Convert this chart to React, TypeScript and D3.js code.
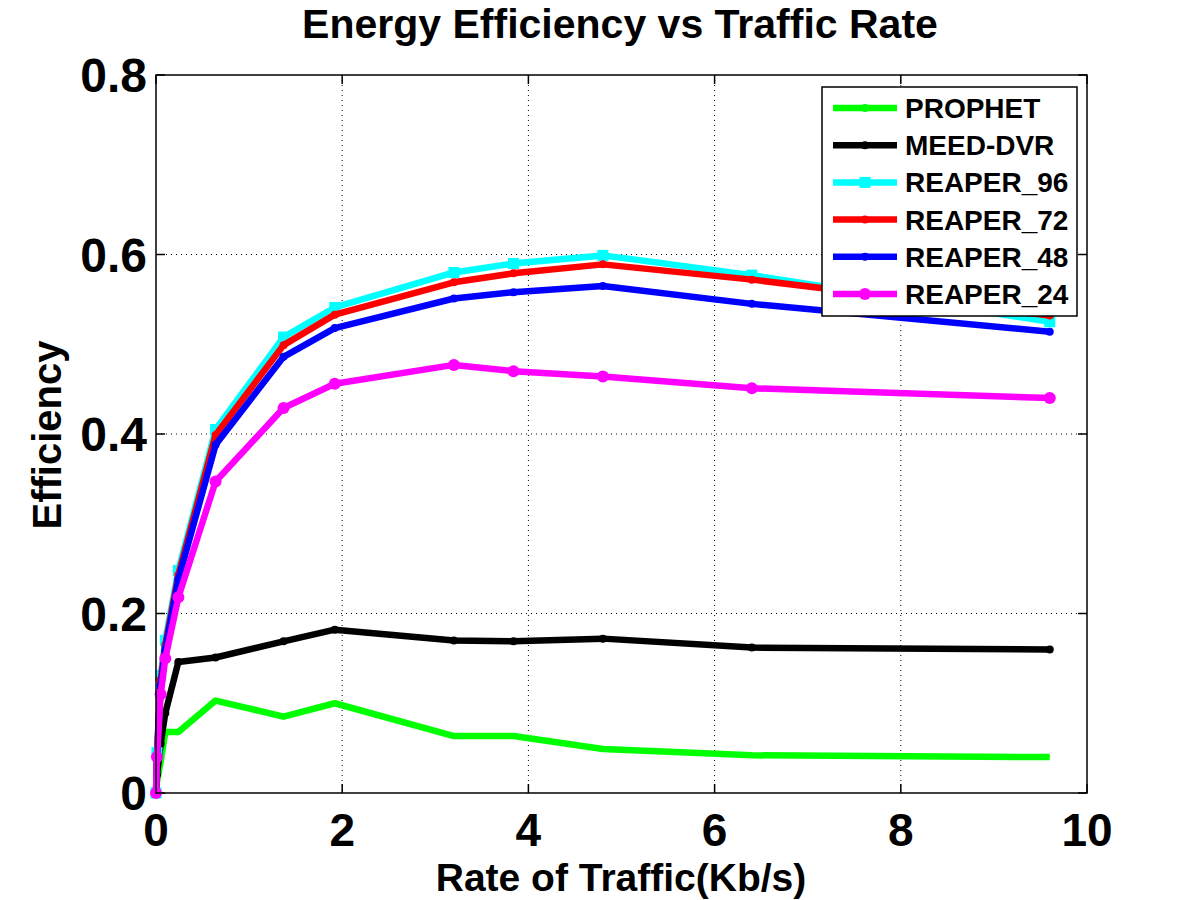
import { line as d3Line, scaleLinear } from "d3"

// traffic rate (Kb/s) at which every protocol was sampled
const rates = [0, 0.01, 0.05, 0.1, 0.24, 0.64, 1.37, 1.92, 3.2, 3.84, 4.8, 6.4, 9.6]

const prophet = [0, 0.012, 0.035, 0.068, 0.068, 0.103, 0.085, 0.1, 0.0635, 0.0635, 0.049, 0.042, 0.04]
const meedDvr = [0, 0.02, 0.055, 0.089, 0.146, 0.151, 0.169, 0.182, 0.17, 0.169, 0.172, 0.162, 0.16]
const reaper96 = [0, 0.045, 0.131, 0.17, 0.248, 0.405, 0.508, 0.541, 0.58, 0.59, 0.599, 0.577, 0.525]
const reaper72 = [0, 0.042, 0.126, 0.165, 0.243, 0.399, 0.499, 0.533, 0.569, 0.579, 0.589, 0.572, 0.532]
const reaper48 = [0, 0.038, 0.12, 0.16, 0.238, 0.388, 0.486, 0.518, 0.551, 0.558, 0.565, 0.545, 0.514]
const reaper24 = [0, 0.04, 0.11, 0.15, 0.218, 0.347, 0.429, 0.456, 0.477, 0.47, 0.464, 0.451, 0.44]

const xTicks = [0, 2, 4, 6, 8, 10]
const yTicks = [0, 0.2, 0.4, 0.6, 0.8]

type Marker = "dot" | "square" | "circle" | "none"

interface Series {
  label: string
  color: string
  values: number[]
  marker: Marker
}

const series: Series[] = [
  { label: "PROPHET", color: "#00ff00", values: prophet, marker: "none" },
  { label: "MEED-DVR", color: "#000000", values: meedDvr, marker: "dot" },
  { label: "REAPER_96", color: "#00ffff", values: reaper96, marker: "square" },
  { label: "REAPER_72", color: "#ff0000", values: reaper72, marker: "dot" },
  { label: "REAPER_48", color: "#0000ff", values: reaper48, marker: "dot" },
  { label: "REAPER_24", color: "#ff00ff", values: reaper24, marker: "circle" },
]

const W = 1200
const H = 900
const plot = { left: 156, top: 75, right: 1087, bottom: 793 }
const font = "'Liberation Sans', Arial, Helvetica, sans-serif"

function MarkerShape({ kind, x, y, color }: { kind: Marker; x: number; y: number; color: string }) {
  if (kind === "square") return <rect x={x - 5.5} y={y - 5.5} width={11} height={11} fill={color} />
  if (kind === "circle") return <circle cx={x} cy={y} r={6} fill={color} />
  if (kind === "dot") return <circle cx={x} cy={y} r={4} fill={color} />
  return null
}

export default function App() {
  const x = scaleLinear().domain([0, 10]).range([plot.left, plot.right])
  const y = scaleLinear().domain([0, 0.8]).range([plot.bottom, plot.top])
  const tickLen = 9

  const lineFor = (values: number[]) =>
    d3Line<number>()
      .x((_, i) => x(rates[i]))
      .y((v) => y(v))(values) ?? ""

  const legend = { left: 822, top: 87, right: 1077, bottom: 316, rowH: 37.2, firstRow: 108 }

  return (
    <svg width={W} height={H} style={{ position: "absolute", left: 0, top: 0, background: "#fff" }} fontFamily={font} fontWeight="bold">
      <rect x={0} y={0} width={W} height={H} fill="#fff" />

      {/* dotted grid */}
      {xTicks.slice(1, -1).map((t) => (
        <line key={`gx${t}`} x1={x(t)} x2={x(t)} y1={plot.top} y2={plot.bottom} stroke="#000" strokeWidth={1} strokeDasharray="1 4" />
      ))}
      {yTicks.slice(1, -1).map((t) => (
        <line key={`gy${t}`} x1={plot.left} x2={plot.right} y1={y(t)} y2={y(t)} stroke="#000" strokeWidth={1} strokeDasharray="1 4" />
      ))}

      {/* inward ticks on all four sides */}
      {xTicks.map((t) => (
        <g key={`tx${t}`} stroke="#000" strokeWidth={1.5}>
          <line x1={x(t)} x2={x(t)} y1={plot.bottom} y2={plot.bottom - tickLen} />
          <line x1={x(t)} x2={x(t)} y1={plot.top} y2={plot.top + tickLen} />
        </g>
      ))}
      {yTicks.map((t) => (
        <g key={`ty${t}`} stroke="#000" strokeWidth={1.5}>
          <line x1={plot.left} x2={plot.left + tickLen} y1={y(t)} y2={y(t)} />
          <line x1={plot.right} x2={plot.right - tickLen} y1={y(t)} y2={y(t)} />
        </g>
      ))}

      {/* data */}
      {series.map((s) => (
        <g key={s.label}>
          <path d={lineFor(s.values)} fill="none" stroke={s.color} strokeWidth={6.5} strokeLinejoin="round" />
          {s.values.map((v, i) => (
            <MarkerShape key={i} kind={s.marker} x={x(rates[i])} y={y(v)} color={s.color} />
          ))}
        </g>
      ))}

      <rect x={plot.left} y={plot.top} width={plot.right - plot.left} height={plot.bottom - plot.top} fill="none" stroke="#000" strokeWidth={1.5} />

      {/* tick labels */}
      {yTicks.map((t) => (
        <text key={`ly${t}`} x={plot.left - 9} y={y(t) + 17} textAnchor="end" fontSize={48}>
          {t === 0 ? "0" : t.toFixed(1)}
        </text>
      ))}
      {xTicks.map((t) => (
        <text key={`lx${t}`} x={x(t)} y={846} textAnchor="middle" fontSize={46}>
          {t}
        </text>
      ))}

      <text x={620} y={38} textAnchor="middle" fontSize={41}>Energy Efficiency vs Traffic Rate</text>
      <text x={621} y={891} textAnchor="middle" fontSize={39}>Rate of Traffic(Kb/s)</text>
      <text transform="translate(61,435) rotate(-90)" textAnchor="middle" fontSize={40}>Efficiency</text>

      {/* legend */}
      <rect x={legend.left} y={legend.top} width={legend.right - legend.left} height={legend.bottom - legend.top} fill="#fff" stroke="#000" strokeWidth={1.5} />
      {series.map((s, i) => {
        const cy = legend.firstRow + i * legend.rowH
        return (
          <g key={`lg${s.label}`}>
            <line x1={833} x2={897} y1={cy} y2={cy} stroke={s.color} strokeWidth={6.5} />
            <MarkerShape kind={s.marker === "none" ? "dot" : s.marker} x={865} y={cy} color={s.color} />
            <text x={905} y={cy + 10} fontSize={28}>{s.label}</text>
          </g>
        )
      })}
    </svg>
  )
}
